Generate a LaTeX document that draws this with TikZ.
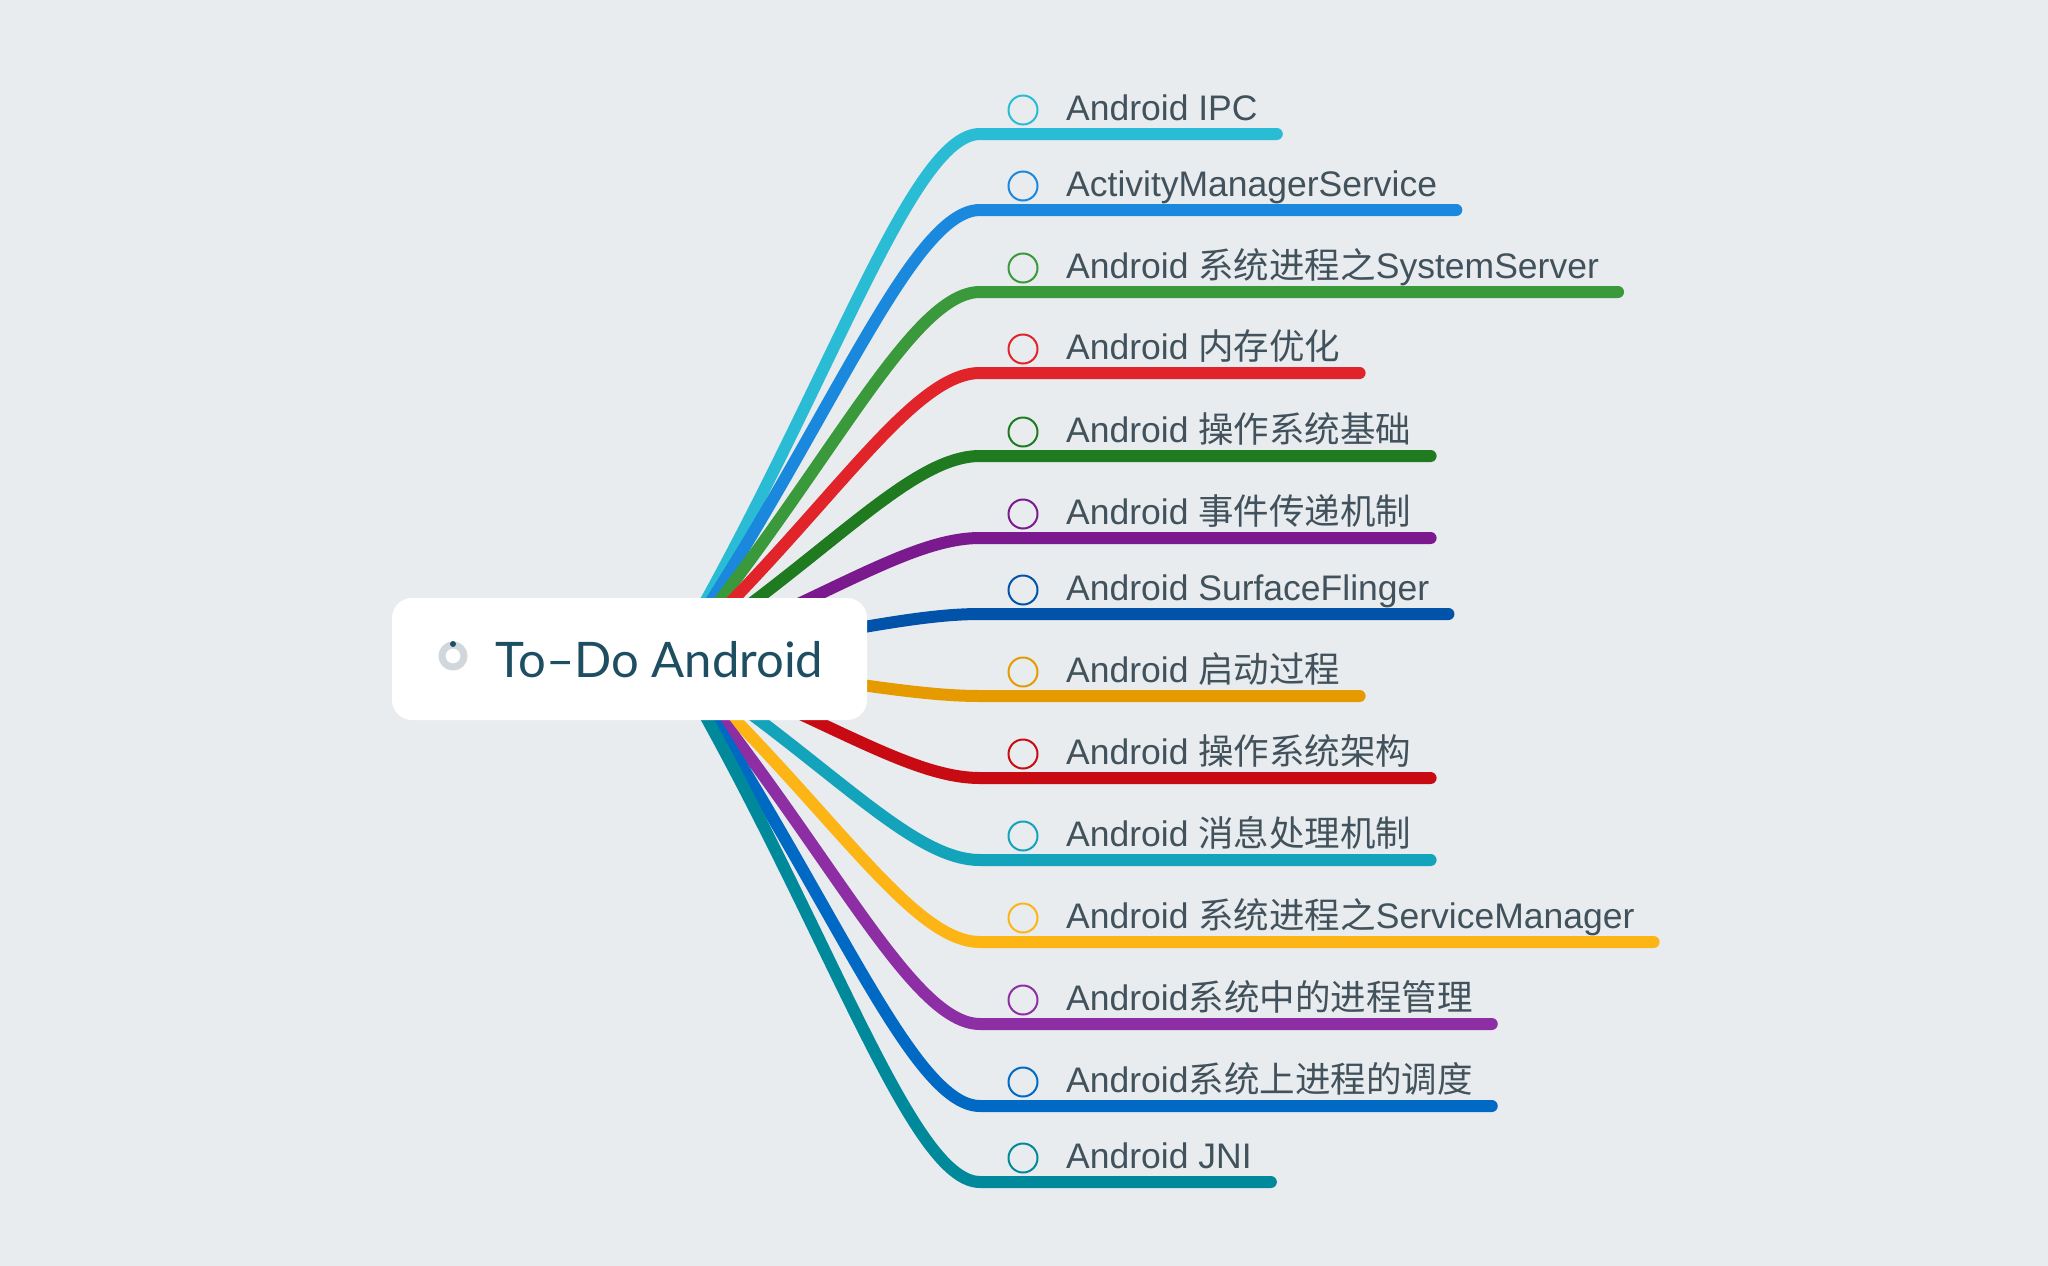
\documentclass[tikz,border=0pt]{standalone}
\usepackage{fontspec}
\setmainfont{Liberation Sans}
\newfontfamily\cjk{Noto Sans CJK SC}
\newfontfamily\titlefont{Lato}
\usetikzlibrary{calc}

\definecolor{bg}{RGB}{232,236,239}
\definecolor{txt}{RGB}{66,82,92}
\definecolor{titlecol}{RGB}{30,78,98}
\definecolor{ringgray}{RGB}{208,216,221}
\definecolor{cA}{RGB}{41,188,212}
\definecolor{cB}{RGB}{26,136,221}
\definecolor{cC}{RGB}{58,153,58}
\definecolor{cD}{RGB}{224,36,42}
\definecolor{cE}{RGB}{31,122,32}
\definecolor{cF}{RGB}{123,26,142}
\definecolor{cG}{RGB}{0,83,168}
\definecolor{cH}{RGB}{229,155,0}
\definecolor{cI}{RGB}{200,10,18}
\definecolor{cJ}{RGB}{19,163,187}
\definecolor{cK}{RGB}{253,181,21}
\definecolor{cL}{RGB}{142,46,165}
\definecolor{cM}{RGB}{0,105,196}
\definecolor{cN}{RGB}{0,137,154}

\begin{document}
\begin{tikzpicture}[x=1pt,y=-1pt,
  branch/.style={line width=12pt, line cap=round},
  bullet/.style={circle, draw, line width=2pt, minimum size=29pt, inner sep=0pt},
  topic/.style={anchor=base west, inner sep=0pt, text=txt, font=\fontsize{35.5}{42}\selectfont},
  rootbox/.style={fill=white, rounded corners=20pt, minimum width=475pt, minimum height=122pt, inner sep=0pt}]
  % Fundo
  \fill[bg] (0,0) rectangle (2048,1266);
  \useasboundingbox (0,0) rectangle (2048,1266);
  \coordinate (s) at (673,659);
  % Ramos
  \foreach \n/\y/\col/\txt in {
    1/134/cA/{Android IPC},
    2/210/cB/{ActivityManagerService},
    3/292/cC/{Android {\cjk 系统进程之}SystemServer},
    4/373/cD/{Android {\cjk 内存优化}},
    5/456/cE/{Android {\cjk 操作系统基础}},
    6/538/cF/{Android {\cjk 事件传递机制}},
    7/614/cG/{Android SurfaceFlinger},
    8/696/cH/{Android {\cjk 启动过程}},
    9/778/cI/{Android {\cjk 操作系统架构}},
    10/860/cJ/{Android {\cjk 消息处理机制}},
    11/942/cK/{Android {\cjk 系统进程之}ServiceManager},
    12/1024/cL/{Android{\cjk 系统中的进程管理}},
    13/1106/cM/{Android{\cjk 系统上进程的调度}},
    14/1182/cN/{Android JNI}}{
    \coordinate (e\n) at (980,\y);
    \node[bullet, draw=\col] (b\n) at (1023,\y-24) {};
    \node[topic] (t\n) at (1066,\y-14) {\txt};
    \draw[branch, \col] (s) .. controls ($(s)!0.5!(e\n)$) and ($(e\n)+(-70,0)$) .. (e\n)
      -- ($(e\n -| t\n.east)+(19,0)$);
  }
  % No central
  \node[rootbox] (root) at (629.5,659) {};
  \draw[ringgray, line width=7pt] (453,656) circle (11);
  \fill[titlecol] (453,644) circle (3);
  \node[anchor=base west, inner sep=0pt, text=titlecol, font=\titlefont\fontsize{49}{60}\selectfont] (title) at (495,677) {To–Do Android};
\end{tikzpicture}
\end{document}
